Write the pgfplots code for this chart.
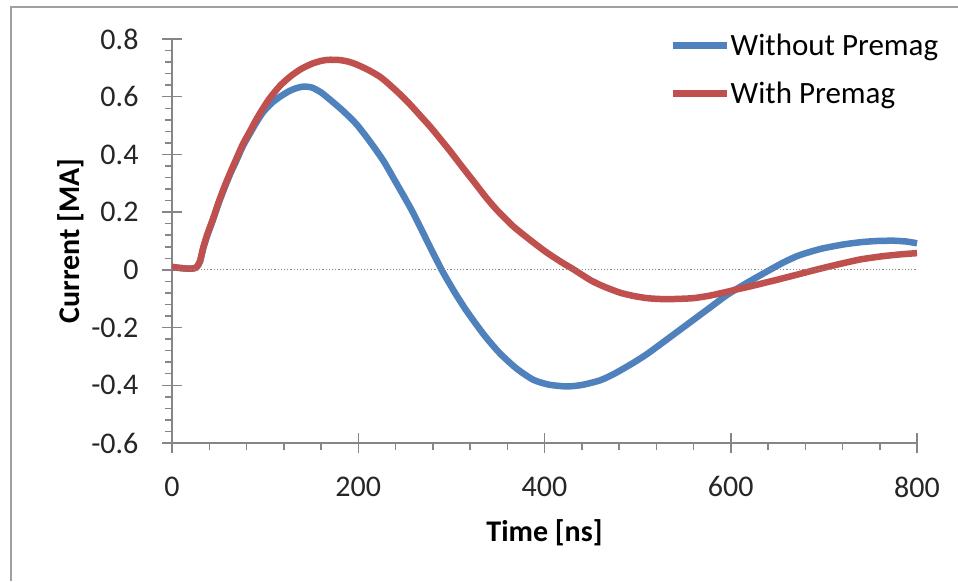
\documentclass[border=0pt]{standalone}
\usepackage{fontspec}
\setmainfont{Carlito}
\usepackage{pgfplots}
\pgfplotsset{compat=1.18}
\definecolor{xlblue}{HTML}{4F81BD}
\definecolor{xlred}{HTML}{C0504D}
\definecolor{axisgray}{HTML}{868686}
\definecolor{framegray}{HTML}{A0A0A0}
\newcommand{\chartfont}{\fontsize{30}{36}\selectfont}
\begin{document}
\begin{tikzpicture}
\useasboundingbox (0,0) rectangle (958pt,581pt);
\fill[white] (0,0) rectangle (958pt,581pt);
% outer chart frame (only left and top edges are in view)
\draw[framegray, line width=2pt] (11pt,0) -- (11pt,574pt) -- (958pt,574pt);
\begin{axis}[
  at={(172pt,138pt)}, anchor=south west,
  scale only axis, width=745pt, height=404pt,
  xmin=0, xmax=800, ymin=-0.6, ymax=0.8,
  clip=false,
  axis x line=bottom, axis y line=left,
  axis line style={-, draw=axisgray, line width=1.5pt},
  xtick={0,200,400,600,800},
  ytick={-0.6,-0.4,-0.2,0,0.2,0.4,0.6,0.8},
  minor x tick num=4, minor y tick num=4,
  tick align=center,
  major tick length=20pt, minor tick length=7pt,
  every tick/.style={draw=axisgray, line width=1.5pt},
  minor x tick style={yshift=-3.5pt},
  minor y tick style={xshift=-3.5pt},
  /pgf/number format/assume math mode=true,
  tick label style={font=\chartfont, text=black!85},
  xticklabel style={yshift=-20pt},
  yticklabel style={xshift=-20pt},
  xlabel={\textbf{Time [ns]}},
  ylabel={\textbf{Current [MA]}},
  label style={font=\chartfont},
  xlabel style={at={(axis description cs:0.5,-0.2426)}, anchor=base},
  ylabel style={at={(axis description cs:-0.1235,0.5)}, anchor=base},
  legend style={draw=none, fill=none, font=\fontsize{31}{37}\selectfont,
    at={(axis description cs:0.6685,1.0127)}, anchor=north west,
    inner sep=0pt, row sep=25pt,
    nodes={inner sep=0pt}},
  legend cell align=left,
  legend image code/.code={\draw[#1] (0pt,0pt) -- (54pt,0pt);},
]
\addplot[xlblue, line width=6.5pt, smooth, tension=0.4] coordinates {
(0,0.01)(10,0.006)(20,0.004)(26,0.008)(30,0.028)(33.6,0.075)(38,0.12)(44,0.173)
(50,0.23)(57,0.289)(63,0.336)(69.5,0.381)(76,0.428)(84,0.474)(91,0.513)(98,0.547)
(107,0.578)(116,0.600)(125,0.618)(133,0.629)(141,0.635)(150,0.632)(160,0.615)
(170,0.589)(184,0.550)(198,0.505)(212,0.447)(227,0.378)(241,0.300)(256,0.215)
(266,0.152)(275,0.093)(289.6,0)(303,-0.075)(316.5,-0.143)(335,-0.225)(352,-0.289)
(370,-0.342)(388,-0.381)(405,-0.398)(424,-0.404)(440,-0.399)(459.6,-0.383)
(475,-0.360)(495,-0.323)(510,-0.292)(524,-0.259)(542,-0.216)(560,-0.173)
(578,-0.130)(596,-0.087)(619,-0.042)(642,0)(658,0.028)(674,0.051)(697,0.073)
(721,0.088)(740,0.096)(757,0.100)(775,0.101)(789,0.098)(800,0.092)
};
\addlegendentry{Without Premag}
\addplot[xlred, line width=6.5pt, smooth, tension=0.4] coordinates {
(0,0.01)(10,0.006)(20,0.004)(26,0.008)(30,0.03)(33.6,0.078)(38,0.124)(44,0.177)
(50,0.234)(57,0.294)(63,0.340)(69.5,0.388)(76,0.435)(84,0.482)(91,0.524)(98,0.561)
(105,0.595)(116,0.638)(127,0.670)(138,0.695)(150,0.714)(160,0.724)(168,0.728)
(180,0.727)(190,0.721)(198,0.712)(210,0.694)(222,0.672)(230,0.652)(245,0.608)
(256,0.572)(265,0.540)(277,0.497)(287,0.458)(298.5,0.412)(312.8,0.352)(325,0.302)
(337,0.252)(348.7,0.208)(366,0.152)(384.4,0.104)(402,0.061)(420,0.023)(431,0.002)
(449,-0.035)(459.6,-0.052)(470,-0.066)(482,-0.080)(495,-0.090)(510,-0.098)
(524,-0.101)(540,-0.101)(560,-0.098)(578,-0.089)(596,-0.076)(606,-0.068)
(620,-0.058)(635,-0.046)(649,-0.035)(672,-0.016)(696,0.004)(718,0.021)
(739,0.036)(760,0.046)(780,0.053)(800,0.058)
};
\addlegendentry{With Premag}
% zero reference line
\addplot[axisgray, line width=1.2pt, dash pattern=on 1.2pt off 2pt, forget plot]
  coordinates {(0,0)(800,0)};
\end{axis}
\end{tikzpicture}
\end{document}
